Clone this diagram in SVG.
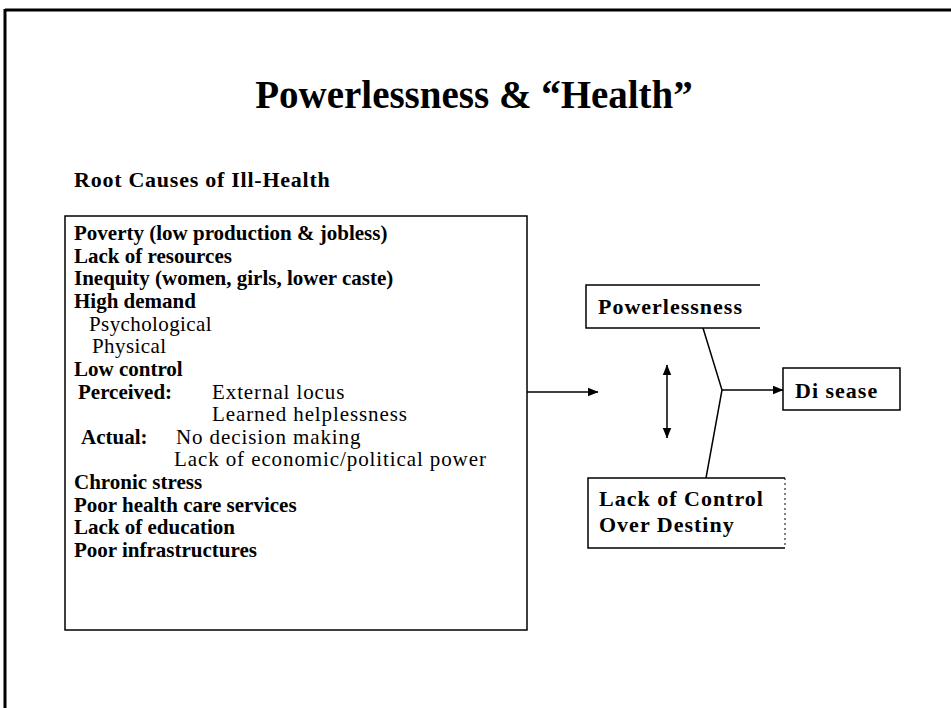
<svg xmlns="http://www.w3.org/2000/svg" width="951" height="708" viewBox="0 0 951 708">
<defs>
<style>
.t{font-family:"Liberation Serif","Times New Roman",serif;fill:#000}
.b{font-weight:bold}
.r{letter-spacing:0.4px}
.w{letter-spacing:0.9px}
.n{font-size:22px;letter-spacing:1px}
.box{fill:none;stroke:#000;stroke-width:1.5}
.ln{fill:none;stroke:#000;stroke-width:1.5}
</style>
<marker id="ah" viewBox="0 0 10 10" refX="9.5" refY="5" markerWidth="11" markerHeight="11" markerUnits="userSpaceOnUse" orient="auto-start-reverse">
<path d="M0,1 L10,5 L0,9 z" fill="#000"/>
</marker>
</defs>
<rect width="951" height="708" fill="#fff"/>
<g id="frame">
<line x1="5" y1="10" x2="951" y2="10" stroke="#000" stroke-width="3"/>
<line x1="5" y1="9" x2="5" y2="708" stroke="#000" stroke-width="3"/>
</g>
<g id="title">
<text class="t b" x="474" y="108" font-size="39" text-anchor="middle">Powerlessness &amp; “Health”</text>
<text class="t b" x="74" y="187" font-size="22" letter-spacing="0.75">Root Causes of Ill-Health</text>
</g>
<g id="root-causes">
<rect class="box" x="65" y="216" width="462" height="414"/>
<g class="t" font-size="21">
<text class="b" x="74" y="240">Poverty (low production &amp; jobless)</text>
<text class="b" x="74" y="263">Lack of resources</text>
<text class="b" x="74" y="285">Inequity (women, girls, lower caste)</text>
<text class="b" x="74" y="308">High demand</text>
<text class="r" x="89" y="331">Psychological</text>
<text class="r" x="92" y="353">Physical</text>
<text class="b" x="74" y="376">Low control</text>
<text class="b" x="78" y="399">Perceived:</text>
<text class="w" x="212" y="399">External locus</text>
<text class="w" x="212" y="421">Learned helplessness</text>
<text class="b" x="81" y="444">Actual:</text>
<text class="w" x="176" y="444">No decision making</text>
<text class="w" x="174" y="466">Lack of economic/political power</text>
<text class="b" x="74" y="489">Chronic stress</text>
<text class="b" x="74" y="512">Poor health care services</text>
<text class="b" x="74" y="534">Lack of education</text>
<text class="b" x="74" y="557">Poor infrastructures</text>
</g>
</g>
<g id="powerlessness">
<path class="box" d="M760,285 H586 V328 H760"/>
<text class="t b n" x="598" y="314">Powerlessness</text>
</g>
<g id="disease">
<rect class="box" x="783" y="368" width="117" height="42"/>
<text class="t b n" x="795" y="398">Di sease</text>
</g>
<g id="lack-control">
<path class="box" d="M785,478 H588 V548 H785"/>
<path d="M785,478 V548" fill="none" stroke="#000" stroke-width="1" stroke-dasharray="2,3"/>
<text class="t b n" x="599" y="506">Lack of Control</text>
<text class="t b n" x="599" y="532">Over Destiny</text>
</g>
<g id="connectors">
<line class="ln" x1="527" y1="392" x2="598" y2="392" marker-end="url(#ah)"/>
<line class="ln" x1="667" y1="365" x2="667" y2="438" marker-start="url(#ah)" marker-end="url(#ah)"/>
<polyline class="ln" points="703,328 722,390 706,478"/>
<line class="ln" x1="722" y1="390" x2="783" y2="390" marker-end="url(#ah)"/>
</g>
</svg>
